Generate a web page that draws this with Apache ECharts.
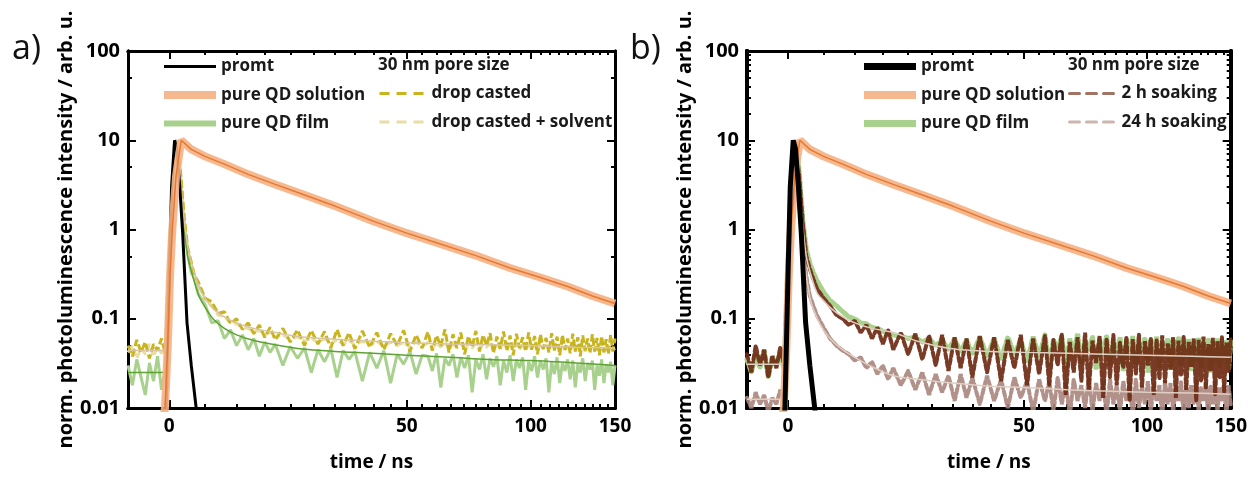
<!DOCTYPE html>
<html>
<head>
<meta charset="utf-8">
<title>PL decay</title>
<script src="https://cdn.jsdelivr.net/npm/echarts@6/dist/echarts.min.js"></script>
<style>
  html, body { margin: 0; padding: 0; background: #fff; }
  #chart { width: 1250px; height: 477px; }
</style>
</head>
<body>
<div id="chart"></div>
<script>
// the time axis is stretched at early times: drawn on a log axis of (t + T_SHIFT)
const T_SHIFT = 35
const T_MIN = -5
const T_MAX = 150
const xTickLabels = [0, 50, 100, 150]
const xMinorTicks = [5, 10, 15, 20, 25, 30, 35, 40, 45, 55, 60, 65, 70, 75, 80, 85, 90, 95,
  105, 110, 115, 120, 125, 130, 135, 140, 145]
const yTickLabels = [0.01, 0.1, 1, 10, 100]
const yMinorA = [0.05, 0.5, 5, 50]
const yMinorB = [0.02, 0.03, 0.04, 0.05, 0.06, 0.07, 0.08, 0.09, 0.2, 0.3, 0.4, 0.5, 0.6, 0.7, 0.8, 0.9,
  2, 3, 4, 5, 6, 7, 8, 9, 20, 30, 40, 50, 60, 70, 80, 90]

// instrument response
const tPromt = [-5, -0.6, -0.4, 0, 0.3, 0.7, 1, 1.4, 1.8, 2.4, 3, 3.7, 4.2]
const promt = [0.004, 0.005, 0.01, 0.3, 3, 10, 8, 3, 0.9, 0.09, 0.03, 0.01, 0.005]

// pure QD solution
const tSol = [-5, -1, -0.55, -0.2, 0.1, 0.4, 0.9, 1.6, 3, 5, 8, 12, 17, 22, 30, 40, 50, 60, 75, 90, 105, 120, 135, 150]
const solution = [0.005, 0.006, 0.01, 0.05, 0.3, 1, 4, 10, 7.9, 6.6, 5.4, 4.15, 3.2, 2.55, 1.83, 1.24, 0.91, 0.71,
  0.51, 0.37, 0.29, 0.23, 0.18, 0.148]

// noisy measured traces, all sampled at tNoise
const tNoise = [-5, -4.5, -4, -3.5, -3, -2.5, -2, -1.5, -1, -0.5,
  0, 0.5, 1, 1.5, 2, 2.5, 3, 3.5, 4, 5, 6, 7, 8, 9, 10, 11, 12, 13, 14, 15, 16, 17,
  18.5, 20, 21.5, 23, 24.5, 26, 27.5, 29, 30.5, 32, 33.5, 35, 37,
  39, 41, 43, 45, 47, 49, 51, 53, 55,
  57, 58.5, 60, 61.5, 63, 64.5, 66, 67.5, 69, 70.5,
  72, 73.5, 75, 76.5, 78, 79.5, 81, 82.5, 84, 85.5,
  87, 88.5, 90, 91.5, 93, 94.5, 96, 97.5, 99, 100.5,
  102, 103.5, 105, 106.5, 108, 109.5, 111, 112.5, 114, 115.5,
  117, 118.5, 120, 121.5, 123, 124.5, 126, 127.5, 129, 130.5,
  132, 133.5, 135, 136.5, 138, 139.5, 141, 142.5, 144, 145.5,
  147, 148.5, 150]

const filmA = [0.03, 0.018, 0.035, 0.022, 0.014, 0.032, 0.02, 0.038, 0.016, 0.028,
  0.3, 4, 9.6, 3.8, 1.1, 0.52, 0.33, 0.28, 0.19, 0.145, 0.09, 0.095, 0.06, 0.075, 0.05, 0.066, 0.045, 0.06, 0.038,
  0.055, 0.042, 0.052, 0.03, 0.049, 0.036, 0.047, 0.025, 0.045, 0.033, 0.046, 0.022, 0.044, 0.035, 0.043, 0.02,
  0.042, 0.028, 0.044, 0.019, 0.04, 0.031, 0.043, 0.024, 0.039,
  0.038, 0.026, 0.041, 0.017, 0.036, 0.03, 0.04, 0.022, 0.037, 0.028,
  0.039, 0.015, 0.035, 0.027, 0.04, 0.021, 0.036, 0.029, 0.038, 0.018,
  0.034, 0.025, 0.039, 0.02, 0.035, 0.028, 0.037, 0.016, 0.033, 0.026,
  0.038, 0.022, 0.034, 0.027, 0.036, 0.015, 0.033, 0.024, 0.037, 0.019,
  0.032, 0.026, 0.035, 0.021, 0.034, 0.017, 0.031, 0.025, 0.036, 0.02,
  0.032, 0.027, 0.034, 0.016, 0.03, 0.023, 0.035, 0.019, 0.031, 0.025,
  0.033, 0.018, 0.03]

const dropCast = [0.05, 0.038, 0.058, 0.042, 0.055, 0.036, 0.052, 0.044, 0.06, 0.04,
  0.5, 5, 9.8, 4.5, 1.4, 0.62, 0.43, 0.3, 0.26, 0.17, 0.155, 0.115, 0.12, 0.088, 0.1, 0.076, 0.09, 0.068, 0.085,
  0.062, 0.08, 0.058, 0.078, 0.055, 0.075, 0.05, 0.074, 0.052, 0.072, 0.047, 0.076, 0.05, 0.07, 0.046, 0.073,
  0.048, 0.07, 0.045, 0.068, 0.05, 0.074, 0.043, 0.066, 0.047,
  0.071, 0.044, 0.065, 0.049, 0.076, 0.042, 0.067, 0.047, 0.07, 0.04,
  0.064, 0.048, 0.073, 0.043, 0.066, 0.05, 0.069, 0.041, 0.063, 0.046,
  0.072, 0.044, 0.065, 0.039, 0.068, 0.047, 0.062, 0.043, 0.07, 0.045,
  0.064, 0.04, 0.067, 0.046, 0.061, 0.042, 0.069, 0.044, 0.063, 0.039,
  0.066, 0.045, 0.06, 0.041, 0.068, 0.043, 0.062, 0.038, 0.065, 0.044,
  0.06, 0.041, 0.067, 0.043, 0.061, 0.039, 0.064, 0.042, 0.059, 0.04,
  0.066, 0.043, 0.06]

const dropSolv = [0.042, 0.05, 0.036, 0.047, 0.04, 0.052, 0.038, 0.048, 0.041, 0.046,
  0.45, 4.5, 9.6, 4.2, 1.3, 0.6, 0.4, 0.3, 0.24, 0.17, 0.14, 0.11, 0.105, 0.09, 0.088, 0.08, 0.078, 0.072, 0.074,
  0.066, 0.07, 0.062, 0.066, 0.059, 0.063, 0.056, 0.061, 0.054, 0.06, 0.053, 0.058, 0.052, 0.057, 0.051, 0.056,
  0.05, 0.056, 0.049, 0.055, 0.05, 0.054, 0.048, 0.055, 0.049,
  0.054, 0.047, 0.053, 0.048, 0.055, 0.046, 0.052, 0.048, 0.054, 0.045,
  0.052, 0.047, 0.053, 0.046, 0.051, 0.048, 0.053, 0.045, 0.051, 0.047,
  0.052, 0.046, 0.05, 0.047, 0.052, 0.045, 0.051, 0.046, 0.05, 0.047,
  0.051, 0.044, 0.05, 0.046, 0.051, 0.045, 0.049, 0.046, 0.05, 0.044,
  0.05, 0.045, 0.049, 0.046, 0.05, 0.044, 0.049, 0.045, 0.05, 0.043,
  0.049, 0.045, 0.048, 0.044, 0.049, 0.045, 0.048, 0.043, 0.049, 0.044,
  0.048, 0.045, 0.047]

const filmB = [0.035, 0.025, 0.04, 0.028, 0.045, 0.022, 0.038, 0.03, 0.042, 0.027,
  0.4, 5, 9.8, 4.5, 1.3, 0.6, 0.42, 0.33, 0.27, 0.2, 0.16, 0.14, 0.12, 0.105, 0.1, 0.09, 0.088, 0.08, 0.078,
  0.072, 0.07, 0.066, 0.064, 0.06, 0.062, 0.055, 0.06, 0.05, 0.058, 0.045, 0.06, 0.042, 0.058, 0.04, 0.062,
  0.038, 0.06, 0.035, 0.062, 0.04, 0.058, 0.033, 0.063, 0.037,
  0.066, 0.03, 0.058, 0.045, 0.064, 0.028, 0.06, 0.04, 0.068, 0.032,
  0.057, 0.044, 0.063, 0.027, 0.06, 0.038, 0.065, 0.03, 0.056, 0.042,
  0.062, 0.026, 0.059, 0.036, 0.064, 0.031, 0.055, 0.043, 0.061, 0.025,
  0.058, 0.037, 0.063, 0.029, 0.054, 0.041, 0.06, 0.027, 0.057, 0.035,
  0.062, 0.03, 0.053, 0.04, 0.059, 0.026, 0.056, 0.034, 0.061, 0.028,
  0.054, 0.039, 0.058, 0.025, 0.055, 0.033, 0.06, 0.029, 0.053, 0.038,
  0.057, 0.027, 0.055]

const soak2h = [0.04, 0.025, 0.05, 0.03, 0.045, 0.022, 0.038, 0.028, 0.048, 0.03,
  0.35, 4.5, 9.5, 4, 1.2, 0.5, 0.36, 0.28, 0.22, 0.17, 0.14, 0.11, 0.1, 0.085, 0.095, 0.07, 0.085, 0.06, 0.08,
  0.052, 0.075, 0.045, 0.07, 0.04, 0.068, 0.035, 0.065, 0.03, 0.066, 0.026, 0.062, 0.028, 0.06, 0.022, 0.064,
  0.025, 0.062, 0.02, 0.058, 0.028, 0.066, 0.018, 0.06, 0.024,
  0.065, 0.018, 0.058, 0.03, 0.068, 0.014, 0.055, 0.025, 0.062, 0.02,
  0.07, 0.016, 0.057, 0.032, 0.064, 0.013, 0.06, 0.022, 0.066, 0.018,
  0.054, 0.028, 0.063, 0.012, 0.059, 0.024, 0.067, 0.017, 0.056, 0.03,
  0.061, 0.014, 0.058, 0.021, 0.065, 0.019, 0.053, 0.027, 0.062, 0.013,
  0.057, 0.023, 0.064, 0.016, 0.055, 0.029, 0.06, 0.012, 0.058, 0.02,
  0.063, 0.017, 0.052, 0.026, 0.061, 0.014, 0.056, 0.022, 0.062, 0.015,
  0.054, 0.025, 0.059]

const soak24h = [0.013, 0.01, 0.015, 0.011, 0.014, 0.009, 0.013, 0.011, 0.016, 0.012,
  0.1, 1.6, 3.4, 1.9, 0.6, 0.3, 0.18, 0.14, 0.11, 0.08, 0.06, 0.05, 0.044, 0.04, 0.034, 0.037, 0.028, 0.033, 0.024,
  0.03, 0.021, 0.028, 0.018, 0.026, 0.016, 0.025, 0.014, 0.024, 0.015, 0.023, 0.012, 0.024, 0.013, 0.022, 0.011,
  0.023, 0.012, 0.021, 0.01, 0.022, 0.013, 0.02, 0.009, 0.021,
  0.012, 0.02, 0.009, 0.022, 0.011, 0.019, 0.008, 0.021, 0.012, 0.018,
  0.01, 0.022, 0.009, 0.019, 0.012, 0.02, 0.008, 0.021, 0.011, 0.018,
  0.009, 0.02, 0.012, 0.019, 0.008, 0.021, 0.01, 0.018, 0.011, 0.02,
  0.009, 0.019, 0.012, 0.018, 0.008, 0.02, 0.011, 0.019, 0.009, 0.018,
  0.012, 0.02, 0.008, 0.019, 0.01, 0.018, 0.011, 0.02, 0.009, 0.017,
  0.012, 0.019, 0.008, 0.018, 0.011, 0.02, 0.009, 0.017, 0.012, 0.019,
  0.008, 0.018, 0.011]

// fitted decays
const tFit = [-5, -1, -0.5, 0, 0.3, 0.6, 0.9, 1.3, 1.8, 2.5, 3.2, 4.1, 5, 6.2, 8, 10, 13, 17, 22, 30, 40, 50, 65, 80, 100, 125, 150]
const filmFitA = [0.025, 0.025, 0.026, 0.3, 2, 7, 10, 5.5, 1.5, 0.5, 0.3, 0.18, 0.135, 0.1, 0.078, 0.066, 0.057, 0.051,
  0.046, 0.043, 0.041, 0.039, 0.037, 0.035, 0.034, 0.032, 0.03]
const dropFit = [0.044, 0.044, 0.046, 0.4, 2.5, 7.5, 10, 6, 1.8, 0.65, 0.38, 0.23, 0.17, 0.13, 0.105, 0.09, 0.078, 0.07,
  0.063, 0.059, 0.056, 0.054, 0.052, 0.051, 0.05, 0.048, 0.047]
const soak2hFit = [0.031, 0.031, 0.033, 0.35, 2.3, 7, 10, 5.5, 1.6, 0.5, 0.3, 0.19, 0.16, 0.13, 0.105, 0.09, 0.078, 0.07,
  0.056, 0.046, 0.043, 0.042, 0.041, 0.04, 0.039, 0.038, 0.037]
const soak24hFit = [0.0125, 0.0125, 0.013, 0.1, 0.8, 2.5, 3.5, 2.4, 0.9, 0.3, 0.15, 0.1, 0.075, 0.058, 0.045, 0.037, 0.029,
  0.023, 0.021, 0.019, 0.0175, 0.017, 0.016, 0.0155, 0.015, 0.0147, 0.0143]

const FONT = 'Open Sans'
const AX = 5 // axes per grid and direction
const shift = arr => arr.map(t => t + T_SHIFT)
const boldText = size => ({ color: '#000', fontFamily: FONT, fontWeight: 'bold', fontSize: size })
const tick = (vals, len) => ({ show: true, inside: true, length: len, customValues: vals, lineStyle: { color: '#000', width: 2 } })
const axLine = w => ({ show: true, onZero: false, lineStyle: { color: '#000', width: w } })
// split lines kept on but invisible
const hiddenSplit = () => ({ show: true, lineStyle: { color: 'rgba(0,0,0,0)', opacity: 0 } })
// tick marks sit on plain value axes laid over the log axes (same span, log positions)
const xPos = t => Math.log(t + T_SHIFT)
const yPos = v => Math.log10(v)

function xAxes(g, lineW) {
  const overlay = (position, vals, len) => ({
    type: 'value', gridIndex: g, position, min: xPos(T_MIN), max: xPos(T_MAX),
    splitLine: hiddenSplit(), axisLine: axLine(lineW),
    axisTick: tick(vals.map(xPos), len), axisLabel: { show: false }
  })
  return [
    {
      type: 'log', gridIndex: g, position: 'bottom',
      min: T_MIN + T_SHIFT, max: T_MAX + T_SHIFT,
      splitLine: hiddenSplit(), axisLine: axLine(lineW), axisTick: { show: false },
      axisLabel: { ...boldText(19), customValues: shift(xTickLabels), margin: 9,
        formatter: v => String(Math.round(v - T_SHIFT)) },
      name: 'time / ns', nameLocation: 'middle', nameGap: 45, nameTextStyle: boldText(19)
    },
    overlay('bottom', xTickLabels, 8),
    overlay('bottom', xMinorTicks, 4),
    overlay('top', xTickLabels, 8),
    overlay('top', xMinorTicks, 4)
  ]
}

function yAxes(g, lineW, minorVals) {
  const overlay = (position, vals, len) => ({
    type: 'value', gridIndex: g, position, min: yPos(0.01), max: yPos(100),
    splitLine: hiddenSplit(), axisLine: axLine(lineW),
    axisTick: tick(vals.map(yPos), len), axisLabel: { show: false }
  })
  return [
    {
      type: 'log', gridIndex: g, position: 'left', min: 0.01, max: 100,
      splitLine: hiddenSplit(), axisLine: axLine(lineW), axisTick: { show: false },
      axisLabel: { ...boldText(20), customValues: yTickLabels.slice(), margin: 8, formatter: v => String(v) },
      name: 'norm. photoluminescence intensity / arb. u.', nameLocation: 'middle', nameRotate: 90,
      nameGap: 52, nameTextStyle: boldText(20)
    },
    overlay('left', yTickLabels, 8),
    overlay('left', minorVals, 4),
    overlay('right', yTickLabels, 8),
    overlay('right', minorVals, 4)
  ]
}

function line(name, g, ts, vs, color, width, extra) {
  return Object.assign({
    name, type: 'line', xAxisIndex: g * AX, yAxisIndex: g * AX,
    data: ts.map((t, i) => [t + T_SHIFT, vs[i]]),
    symbol: 'none', silent: true,
    lineStyle: { color, width },
    itemStyle: { color }
  }, extra || {})
}

const C = {
  solution: '#f5b183', solutionFit: '#e9772f',
  film: '#a9d18e', filmFit: '#5ea331',
  drop: '#c8b41e', dropSolv: '#e6dea4', dropFit: '#d9c4a6',
  soak2h: '#6e2a12', soak24h: '#a9857c', soakFit: '#dfcfc2'
}

const series = [
  // panel a
  line('pure QD film', 0, tNoise, filmA, C.film, 3),
  line('drop casted + solvent', 0, tNoise, dropSolv, C.dropSolv, 3, { lineStyle: { color: C.dropSolv, width: 3, type: [8, 3] } }),
  line('drop casted', 0, tNoise, dropCast, C.drop, 3, { lineStyle: { color: C.drop, width: 3, type: [8, 3] } }),
  line('fit film a', 0, tFit, filmFitA, C.filmFit, 1.5, { smooth: 0.3 }),
  line('fit drop a', 0, tFit, dropFit, C.dropFit, 1.5, { smooth: 0.3 }),
  line('promt', 0, tPromt, promt, '#000', 3),
  line('pure QD solution', 0, tSol, solution, C.solution, 8, { lineStyle: { color: C.solution, width: 8, opacity: 0.9 } }),
  line('fit solution a', 0, tSol, solution, C.solutionFit, 1.5),
  // panel b
  line('pure QD film', 1, tNoise, filmB, C.film, 5, { lineStyle: { color: C.film, width: 5, type: [5, 3], cap: 'round' } }),
  line('24 h soaking', 1, tNoise, soak24h, C.soak24h, 4, { lineStyle: { color: C.soak24h, width: 4, type: [5, 3], cap: 'round', opacity: 0.9 } }),
  line('2 h soaking', 1, tNoise, soak2h, C.soak2h, 4, { lineStyle: { color: C.soak2h, width: 4, type: [5, 3], cap: 'round', opacity: 0.92 } }),
  line('fit 2h', 1, tFit, soak2hFit, C.soakFit, 1.5, { smooth: 0.3 }),
  line('fit 24h', 1, tFit, soak24hFit, C.soakFit, 1.5, { smooth: 0.3 }),
  line('pure QD solution', 1, tSol, solution, C.solution, 8, { lineStyle: { color: C.solution, width: 8, opacity: 0.9 } }),
  line('fit solution b', 1, tSol, solution, C.solutionFit, 1.5),
  line('promt', 1, tPromt, promt, '#000', 5)
]

const legendBase = {
  orient: 'vertical', itemWidth: 52, itemHeight: 14, itemGap: 11.5, padding: 0, selectedMode: false,
  itemStyle: { color: 'rgba(0,0,0,0)', borderWidth: 0, opacity: 0 },
  textStyle: { color: '#1a1a1a', fontFamily: FONT, fontWeight: 'bold', fontSize: 17 }
}

const option = {
  animation: false,
  textStyle: { fontFamily: FONT },
  title: [
    { text: 'a)', left: 12, top: 32, padding: 0, textStyle: { fontSize: 34, fontWeight: 'normal', color: '#111', fontFamily: FONT } },
    { text: 'b)', left: 630, top: 32, padding: 0, textStyle: { fontSize: 34, fontWeight: 'normal', color: '#111', fontFamily: FONT } },
    { text: '30 nm pore size', left: 378, top: 57, padding: 0, textStyle: { fontSize: 17, fontWeight: 'bold', color: '#1a1a1a', fontFamily: FONT } },
    { text: '30 nm pore size', left: 1068, top: 57, padding: 0, textStyle: { fontSize: 17, fontWeight: 'bold', color: '#1a1a1a', fontFamily: FONT } }
  ],
  legend: [
    { ...legendBase, left: 160, top: 58,
      data: [{ name: 'promt', lineStyle: { width: 3 } }, { name: 'pure QD solution', lineStyle: { width: 8 } },
        { name: 'pure QD film', lineStyle: { width: 6, type: 'solid' } }] },
    { ...legendBase, left: 378, top: 85, itemWidth: 47,
      data: [{ name: 'drop casted', lineStyle: { width: 3, type: [10, 7] } },
        { name: 'drop casted + solvent', lineStyle: { width: 3, type: [10, 7] } }] },
    { ...legendBase, left: 860, top: 58,
      data: [{ name: 'promt', lineStyle: { width: 7 } }, { name: 'pure QD solution', lineStyle: { width: 8 } },
        { name: 'pure QD film', lineStyle: { width: 7, type: 'solid' } }] },
    { ...legendBase, left: 1068, top: 85, itemWidth: 47,
      data: [{ name: '2 h soaking', lineStyle: { width: 3, type: [10, 7], color: '#a27262', opacity: 1 } },
        { name: '24 h soaking', lineStyle: { width: 3, type: [10, 7], color: '#cbb6ae', opacity: 1 } }] }
  ],
  grid: [
    { left: 128, top: 51, width: 487, height: 358 },
    { left: 747, top: 51, width: 486, height: 358 }
  ],
  xAxis: [...xAxes(0, 3), ...xAxes(1, 3)],
  yAxis: [...yAxes(0, 3, yMinorA), ...yAxes(1, 4, yMinorB)],
  series
}

const chart = echarts.init(document.getElementById('chart'))
chart.setOption(option)
window.addEventListener('resize', () => chart.resize())
</script>
</body>
</html>
